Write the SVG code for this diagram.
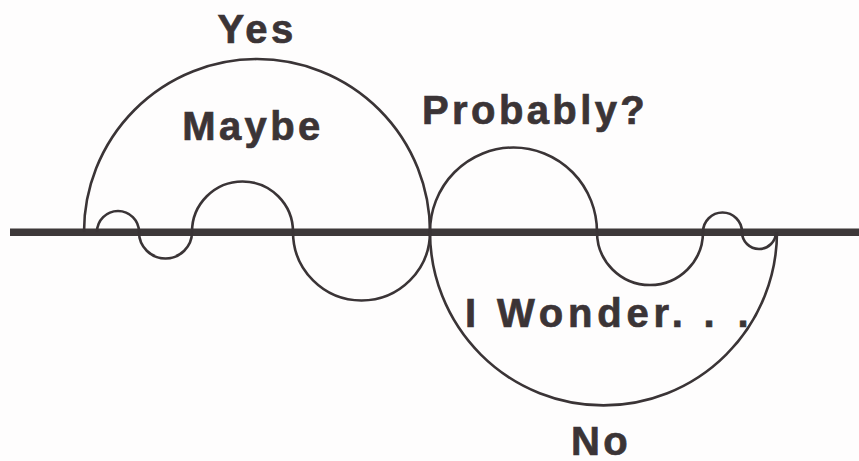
<svg xmlns="http://www.w3.org/2000/svg" width="859" height="461" viewBox="0 0 859 461">
<style>
.curve{fill:none;stroke:#3a3436;stroke-width:2.6}
.axis{stroke:#3d3839;stroke-width:7.5}
.lbl{font-family:"Liberation Sans",Arial,sans-serif;font-weight:bold;font-size:40px;fill:#3b3436;stroke:#3b3436;stroke-width:0.7;letter-spacing:3.4px}
</style>
<rect width="859" height="461" fill="#fefdfd"/>
<g id="axis"><line class="axis" x1="10" y1="232.3" x2="859" y2="232.3"/></g>
<g id="connectors">
<path id="upper-big" class="curve" d="M84,232 A173,173 0 0 1 430,232"/>
<path id="lower-big" class="curve" d="M430,232 A173.5,173.5 0 0 0 777,232"/>
<path id="wave" class="curve" d="M97,232 A21,21 0 0 1 139,232 A26.5,26.5 0 0 0 192,232 A50.5,50.5 0 0 1 293,232 A68.5,68.5 0 0 0 430,232 A83.5,84.5 0 0 1 597,232 A53,53 0 0 0 703,232 A19.5,19.5 0 0 1 742,232 A17,17 0 0 0 776,232"/>
</g>
<g id="label-yes"><text class="lbl" x="257" y="42.5" text-anchor="middle">Yes</text></g>
<g id="label-maybe"><text class="lbl" x="253" y="140" text-anchor="middle">Maybe</text></g>
<g id="label-probably"><text class="lbl" x="422" y="123.5">Probably?</text></g>
<g id="label-wonder"><text class="lbl" x="465" y="327.3">I<tspan x="497" style="letter-spacing:4.8px">Wonder.</tspan><tspan x="689"> .</tspan><tspan x="723"> .</tspan></text></g>
<g id="label-no"><text class="lbl" x="601" y="455" text-anchor="middle">No</text></g>
</svg>
